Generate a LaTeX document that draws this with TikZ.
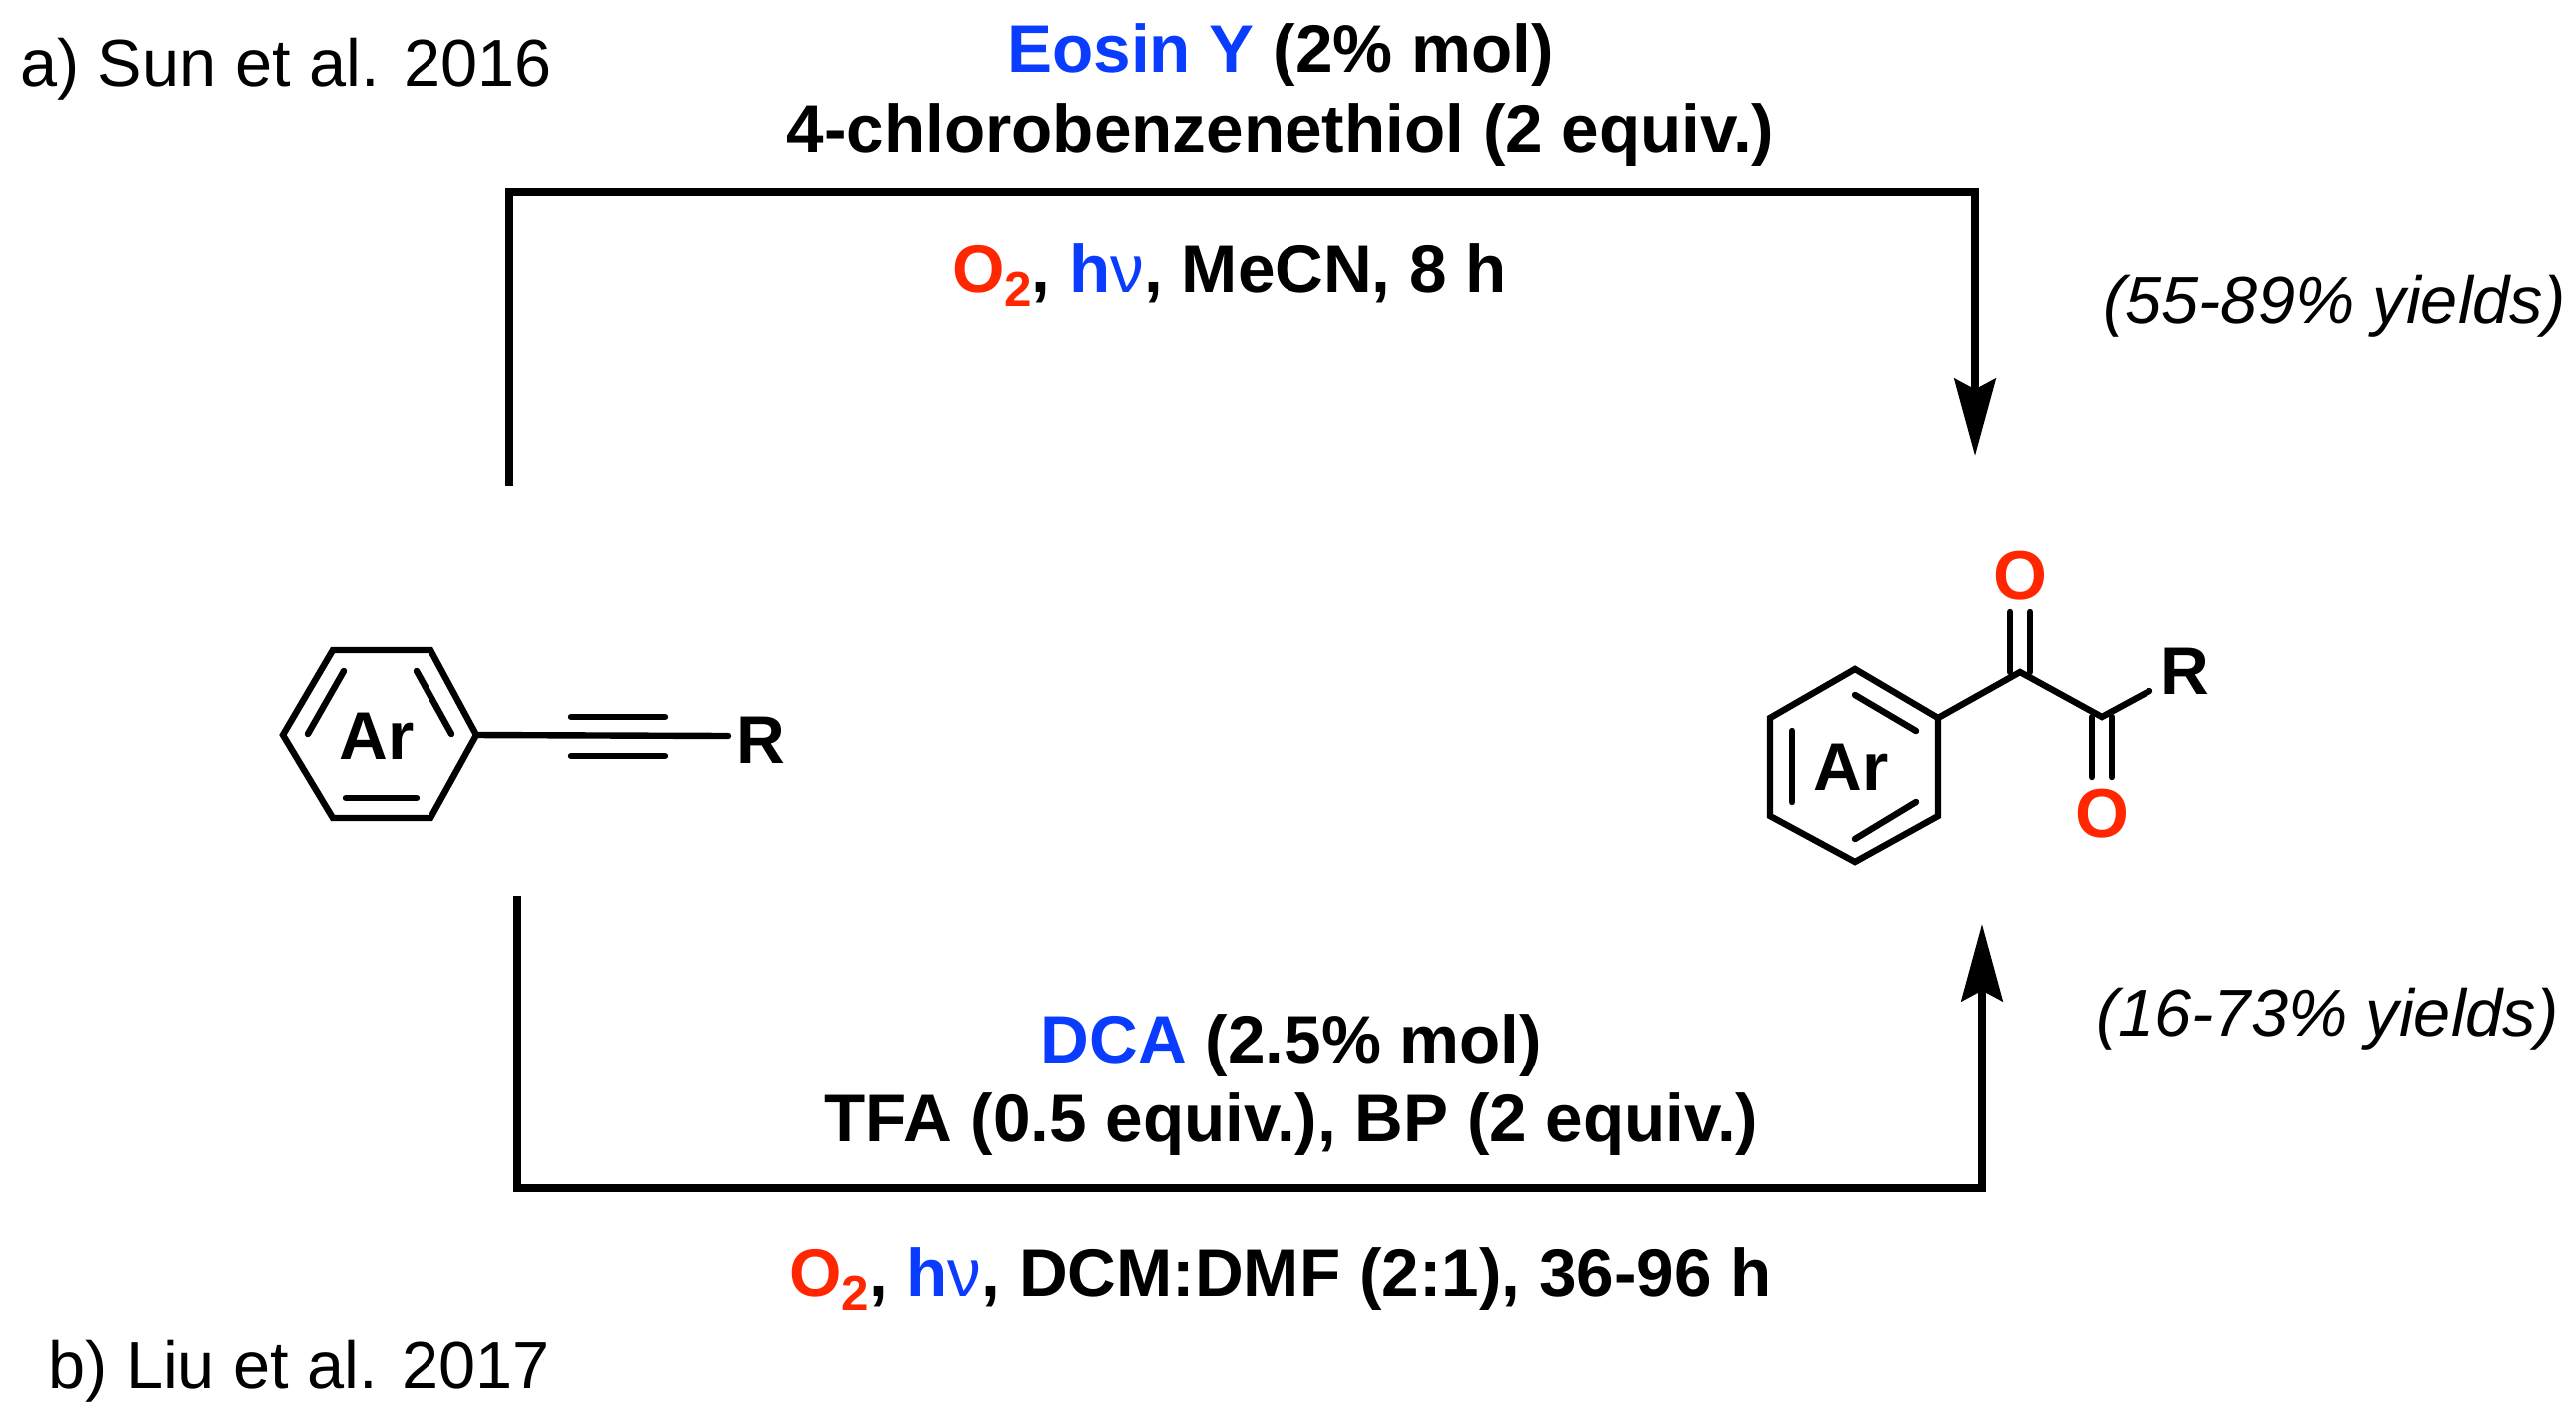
\documentclass[tikz,border=0pt]{standalone}
\usepackage{fontspec}
\usepackage{tikz}
\usetikzlibrary{arrows.meta}
\setmainfont{Liberation Sans}

\definecolor{reagentblue}{RGB}{10,60,255}
\definecolor{oxygenred}{RGB}{255,38,0}
\newcommand{\oxytwo}{{\color{oxygenred}O\raisebox{-0.22em}{\fontsize{37}{37}\selectfont 2}}}
\newcommand{\hnu}{{\color{reagentblue}h{\mdseries ν}}}

\tikzset{
  bond/.style={line width=4.8pt,line cap=round,line join=miter},
  rxnarrow/.style={line width=5.6pt,line join=miter,-{Stealth[length=58pt,width=31pt,inset=8pt]}},
  rxntext/.style={anchor=base,inner sep=0pt,font=\fontsize{50.6}{50.6}\selectfont\bfseries},
  plaintext/.style={anchor=base west,inner sep=0pt,font=\fontsize{50}{50}\selectfont},
  yieldtext/.style={anchor=base,inner sep=0pt,font=\fontsize{50}{50}\selectfont\itshape},
  atom/.style={inner sep=0pt,font=\fontsize{50.6}{50.6}\selectfont\bfseries},
  oxygen/.style={inner sep=0pt,text=oxygenred,font=\fontsize{52}{52}\selectfont\bfseries}
}

\begin{document}
\begin{tikzpicture}[x=0.75pt,y=0.75pt,yscale=-1,xscale=1]
  \useasboundingbox (0,0) rectangle (2579,1422);

  % Text Node
  \node (labela) at (20,86) [plaintext] {a) Sun et al. 2016};
  \node (labelb) at (48,1390) [plaintext] {b) Liu et al. 2017};
  % Text Node
  \node (eosin) at (1282,72) [rxntext] {{\color{reagentblue}Eosin Y} (2\% mol)};
  \node (thiol) at (1282,152) [rxntext] {4-chlorobenzenethiol (2 equiv.)};
  \node (condtop) at (1231,292) [rxntext] {\oxytwo, \hnu, MeCN, 8 h};
  % Text Node
  \node (dca) at (1293,1064) [rxntext] {{\color{reagentblue}DCA} (2.5\% mol)};
  \node (tfa) at (1293,1143) [rxntext] {TFA (0.5 equiv.), BP (2 equiv.)};
  \node (condbot) at (1282,1298) [rxntext] {\oxytwo, \hnu, DCM:DMF (2:1), 36-96 h};
  % Text Node
  \node (yieldtop) at (2337,323) [yieldtext] {(55-89\% yields)};
  \node (yieldbot) at (2330,1037) [yieldtext] {(16-73\% yields)};

  %Top arrow
  \coordinate (topstart) at (510,487);
  \coordinate (topleft) at (510,192);
  \coordinate (topright) at (1977,192);
  \coordinate (toptip) at (1977,457);
  \draw [rxnarrow] (topstart) -- (topleft) -- (topright) -- (toptip);

  %Bottom arrow
  \coordinate (botstart) at (518,897);
  \coordinate (botleft) at (518,1190);
  \coordinate (botright) at (1984,1190);
  \coordinate (bottip) at (1984,925);
  \draw [rxnarrow] (botstart) -- (botleft) -- (botright) -- (bottip);

  %Alkyne ring
  \coordinate (la) at (283,736);
  \coordinate (lb) at (333,651);
  \coordinate (lc) at (431,651);
  \coordinate (ld) at (477,736);
  \coordinate (le) at (431,819);
  \coordinate (lf) at (333,819);
  \draw [bond] (la) -- (lb) -- (lc) -- (ld) -- (le) -- (lf) -- cycle;
  \coordinate (lg) at (344,672);
  \coordinate (lh) at (308,735);
  \coordinate (li) at (417,672);
  \coordinate (lj) at (452,735);
  \coordinate (lk) at (346,799);
  \coordinate (ll) at (417,799);
  \draw [bond] (lg) -- (lh);
  \draw [bond] (li) -- (lj);
  \draw [bond] (lk) -- (ll);
  \node (arleft) at (377,737) [atom] {Ar};

  %Triple bond
  \coordinate (tripa) at (572,718);
  \coordinate (tripb) at (666,718);
  \coordinate (tripc) at (572,757);
  \coordinate (tripd) at (666,757);
  \coordinate (bondend) at (729,737);
  \node (rleft) at (762,741) [atom] {R};
  \draw [bond] (ld) -- (bondend);
  \draw [bond] (tripa) -- (tripb);
  \draw [bond] (tripc) -- (tripd);

  %Diketone ring
  \coordinate (ra) at (1857,670);
  \coordinate (rb) at (1940,719);
  \coordinate (rc) at (1940,817);
  \coordinate (rd) at (1857,863);
  \coordinate (re) at (1772,817);
  \coordinate (rf) at (1772,719);
  \draw [bond] (ra) -- (rb) -- (rc) -- (rd) -- (re) -- (rf) -- cycle;
  \coordinate (rg) at (1857,696);
  \coordinate (rh) at (1918,732);
  \coordinate (ri) at (1794,732);
  \coordinate (rj) at (1794,803);
  \coordinate (rk) at (1857,840);
  \coordinate (rl) at (1918,803);
  \draw [bond] (rg) -- (rh);
  \draw [bond] (ri) -- (rj);
  \draw [bond] (rk) -- (rl);
  \node (arright) at (1853,768) [atom] {Ar};

  %Carbonyl chain
  \coordinate (cone) at (2022,673);
  \coordinate (ctwo) at (2104,718);
  \coordinate (rbond) at (2152,692);
  \node (rright) at (2188,672) [atom] {R};
  \draw [bond] (rb) -- (cone) -- (ctwo) -- (rbond);

  %Carbonyl oxygens
  \node (otop) at (2022,577) [oxygen] {O};
  \node (obot) at (2104,815) [oxygen] {O};
  \coordinate (ota) at (2012,673);
  \coordinate (otb) at (2012,613);
  \coordinate (otc) at (2032,673);
  \coordinate (otd) at (2032,613);
  \coordinate (oba) at (2094,718);
  \coordinate (obb) at (2094,778);
  \coordinate (obc) at (2114,718);
  \coordinate (obd) at (2114,778);
  \draw [bond] (ota) -- (otb);
  \draw [bond] (otc) -- (otd);
  \draw [bond] (oba) -- (obb);
  \draw [bond] (obc) -- (obd);
\end{tikzpicture}
\end{document}
